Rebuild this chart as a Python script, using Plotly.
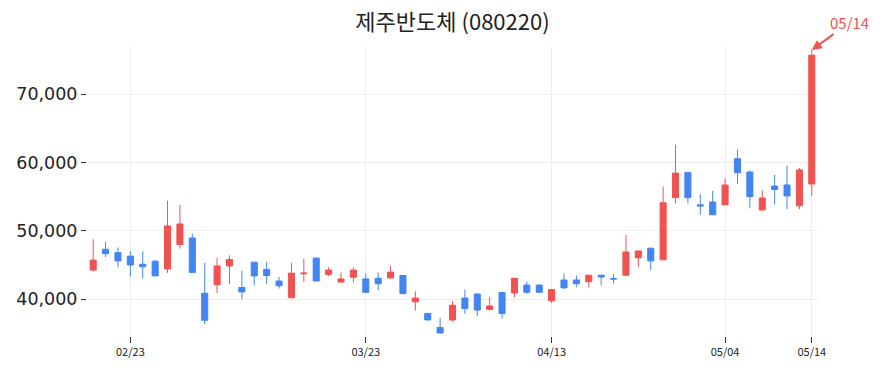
import pandas as pd
import plotly.graph_objects as go

# Trading days (KRX), 2026-02-13 .. 2026-05-14
holidays = ["2026-02-16", "2026-02-17", "2026-02-18", "2026-03-02", "2026-05-01", "2026-05-05"]
dates = [d.strftime("%Y-%m-%d") for d in pd.bdate_range("2026-02-13", "2026-05-14")
         if d.strftime("%Y-%m-%d") not in holidays]

opens = [44250, 47300, 46800, 46300, 45100, 45550, 44400, 48000, 48950, 40850,
         42100, 44850, 41700, 45400, 44350, 42650, 40200, 43700, 46000, 43600,
         42500, 43200, 42950, 43050, 43100, 43450, 39600, 37900, 35850, 36950,
         40150, 40750, 38500, 40950, 40900, 42050, 42050, 39750, 42800, 42800,
         42550, 43500, 43000, 43500, 46050, 47450, 45750, 54850, 58550, 53800,
         54200, 53800, 60550, 58600, 53050, 56550, 56700, 53650, 56850]
highs = [48750, 48400, 47550, 47000, 47000, 45700, 54400, 53800, 49600, 45300,
         46050, 46400, 44150, 45450, 45450, 43250, 45350, 45900, 46050, 44650,
         43900, 44650, 43750, 43900, 44850, 43500, 41150, 38000, 37250, 39700,
         41400, 40800, 40250, 41050, 43100, 42550, 42150, 41500, 43750, 43450,
         43550, 43550, 43650, 49400, 47050, 47550, 56450, 62600, 58600, 55350,
         55850, 57650, 61900, 58850, 55900, 58200, 59550, 59200, 76450]
lows = [44050, 46150, 44650, 43300, 43050, 43400, 43850, 47400, 43900, 36350,
        40900, 42200, 40000, 42050, 42200, 41550, 40200, 42500, 42650, 43350,
        42400, 42450, 41000, 41300, 43050, 40800, 38300, 36900, 34900, 36700,
        37850, 37500, 38350, 37150, 40250, 40750, 40950, 39450, 41500, 41750,
        41700, 42000, 42300, 43400, 44700, 44250, 45750, 54000, 54000, 52300,
        52350, 53800, 56850, 53300, 53000, 53850, 53150, 53150, 55100]
closes = [45700, 46650, 45600, 45000, 44750, 43400, 50700, 51000, 43900, 36900,
          44850, 45800, 41050, 43400, 43450, 41950, 43800, 43800, 42650, 44250,
          42950, 44250, 41000, 42250, 43950, 40800, 40150, 36950, 35050, 39100,
          38600, 38400, 39000, 37900, 43050, 41000, 41000, 41400, 41650, 42250,
          43500, 43250, 42950, 46900, 47050, 45600, 54100, 58450, 54850, 53650,
          52350, 56700, 58500, 55000, 54800, 56050, 55100, 58900, 75700]

tick_dates = ["2026-02-23", "2026-03-23", "2026-04-13", "2026-05-04", "2026-05-14"]
tick_text = ["02/23", "03/23", "04/13", "05/04", "05/14"]
y_ticks = [40000, 50000, 60000, 70000]

RED = "#F05252"
BLUE = "#4285F4"
FONT = "Noto Sans CJK KR"

fig = go.Figure(go.Candlestick(
    x=dates, open=opens, high=highs, low=lows, close=closes,
    increasing=dict(line=dict(color=RED, width=1), fillcolor=RED),
    decreasing=dict(line=dict(color=BLUE, width=1), fillcolor=BLUE),
    showlegend=False, hoverinfo="skip",
))

fig.add_annotation(
    x=dates[-1], y=highs[-1], text="05/14", showarrow=True,
    arrowhead=2, arrowsize=1, arrowwidth=2, arrowcolor=RED,
    ax=38, ay=-28, font=dict(color=RED, size=15, family=FONT),
)

fig.update_layout(
    width=883, height=373,
    margin=dict(l=87, r=65, t=46, b=37),
    paper_bgcolor="white", plot_bgcolor="white",
    font=dict(family=FONT, color="#222"),
    title=dict(text="제주반도체 (080220)", x=0.5, xref="paper", xanchor="center",
               y=1 - 22 / 373, yanchor="middle", font=dict(size=22, color="#222", family=FONT)),
    xaxis=dict(type="category", categoryorder="array", categoryarray=dates,
               tickmode="array", tickvals=tick_dates, ticktext=tick_text,
               rangeslider=dict(visible=False), showgrid=True, gridcolor="#eeeeee",
               ticks="outside", ticklen=6, tickcolor="#333", showline=False,
               tickfont=dict(size=11, family=FONT, color="#222"), range=[-0.5, 58.5]),
    yaxis=dict(tickmode="array", tickvals=y_ticks, tickformat=",", range=[34600, 77050],
               showgrid=True, gridcolor="#eeeeee", zeroline=False, showline=False,
               ticks="outside", ticklen=5, tickcolor="#333",
               tickfont=dict(size=17.5, family="DejaVu Sans", color="#222")),
)

fig.write_html("out.html")
